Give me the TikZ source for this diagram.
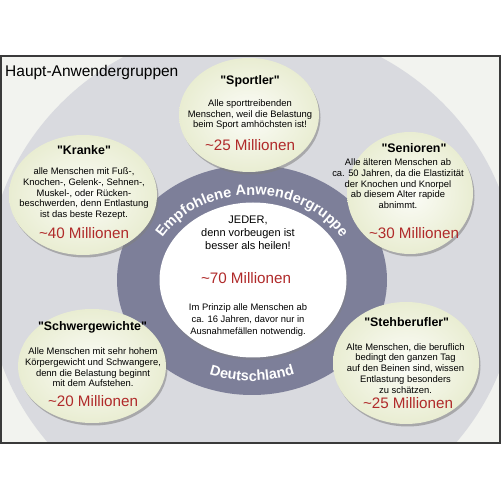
\documentclass[tikz,border=0pt]{standalone}
\usepackage{fontspec}
\setmainfont{Liberation Sans}[Ligatures=TeXOff]
\setsansfont{Liberation Sans}[Ligatures=TeXOff]
\usetikzlibrary{shapes.geometric,shadows,decorations.text}
\definecolor{rahmen}{HTML}{3A3A3A}
\definecolor{papier}{HTML}{F2F3EF}
\definecolor{hof}{HTML}{D9DADF}
\definecolor{ringfarbe}{HTML}{7D7F99}
\definecolor{creme}{HTML}{E9EDD2}
\definecolor{mrot}{HTML}{B02A2A}
\newcommand{\mio}[1]{\textasciitilde#1 Millionen}
\begin{document}
\begin{tikzpicture}[x=1pt,y=1pt,
    gruppe/.style={ellipse,inner sep=0pt,inner color=creme!15!white,outer color=creme,
      drop shadow={shadow xshift=1.5pt,shadow yshift=-2.5pt,opacity=0.55}},
    gtitel/.style={font=\fontsize{12.4}{14}\selectfont\bfseries},
    gtext/.style={align=center,font=\fontsize{9.4}{10.7}\selectfont},
    gmio/.style={text=mrot,font=\fontsize{15.2}{17}\selectfont},
    ringtext/.style={decorate,decoration={text along path,text align=center,text color=white,
      text={|\fontsize{14.5}{15}\selectfont\bfseries|#1}}}]
  \useasboundingbox (0,0) rectangle (501,501);
  \fill[papier] (1,58) rectangle (500,445);
  \begin{scope}
    \clip (1,58) rectangle (500,445);
    \fill[hof] (252,221) ellipse [x radius=265, y radius=255];
  \end{scope}
  \draw[rahmen,line width=1.2pt] (1,58) rectangle (500,445);
  \node[anchor=base west,inner sep=0pt,font=\fontsize{15.5}{17}\selectfont] (titel) at (5,424.3) {Haupt-Anwendergruppen};

  \node[ellipse,fill=ringfarbe,minimum width=270pt,minimum height=230pt] (ring) at (252,221) {};
  \node[ellipse,fill=white,minimum width=187pt,minimum height=155pt,
    drop shadow={shadow xshift=1pt,shadow yshift=-2.5pt,opacity=0.4}] (mitte) at (253,221) {};
  \path[ringtext=Empfohlene Anwendergruppe]
    (ring.center) ++(180:103 and 85) arc[start angle=180,end angle=0,x radius=103,y radius=85];
  \path[ringtext=Deutschland]
    (ring.center) ++(180:119 and 101) arc[start angle=180,end angle=360,x radius=119,y radius=101];
  \node[align=center,font=\fontsize{11}{13.2}\selectfont] (mitte-kopf) at (248,268.5) {JEDER,\\denn vorbeugen ist\\besser als heilen!};
  \node[gmio] (mitte-mio) at (246,222.7) {\mio{70}};
  \node[align=center,font=\fontsize{9.4}{11.7}\selectfont] (mitte-text) at (248,181) {Im Prinzip alle Menschen ab\\ca. 16 Jahren, davor nur in\\Ausnahmefällen notwendig.};

  \node[gruppe,minimum width=140pt,minimum height=114pt] (sportler) at (249,386) {};
  \node[gtitel] (sportler-titel) at (250,419.3) {"Sportler"};
  \node[gtext] (sportler-text) at (250,386.3) {Alle sporttreibenden\\Menschen, weil die Belastung\\beim Sport amhöchsten ist!};
  \node[gmio] (sportler-mio) at (250,356) {\mio{25}};

  \node[gruppe,minimum width=148pt,minimum height=120pt] (kranke) at (83,306) {};
  \node[gtitel] (kranke-titel) at (84,351) {"Kranke"};
  \node[gtext] (kranke-text) at (84,307.3) {alle Menschen mit Fuß-,\\Knochen-, Gelenk-, Sehnen-,\\Muskel-, oder Rücken-\\beschwerden, denn Entlastung\\ist das beste Rezept.};
  \node[gmio] (kranke-mio) at (84,268.3) {\mio{40}};

  \node[gruppe,minimum width=126pt,minimum height=122pt] (senioren) at (410,308) {};
  \node[gtitel] (senioren-titel) at (414,352.7) {"Senioren"};
  \node[gtext] (senioren-text) at (398,317.3) {Alle älteren Menschen ab\\ca. 50 Jahren, da die Elastizität\\der Knochen und Knorpel\\ab diesem Alter rapide\\abnimmt.};
  \node[gmio] (senioren-mio) at (414,268.3) {\mio{30}};

  \node[gruppe,minimum width=148pt,minimum height=114pt] (schwer) at (92,135) {};
  \node[gtitel] (schwer-titel) at (92.5,173.3) {"Schwergewichte"};
  \node[gtext] (schwer-text) at (93,133.5) {Alle Menschen mit sehr hohem\\Körpergewicht und Schwangere,\\denn die Belastung beginnt\\mit dem Aufstehen.};
  \node[gmio] (schwer-mio) at (93,100.3) {\mio{20}};

  \node[gruppe,minimum width=146pt,minimum height=122pt] (steh) at (406,138) {};
  \node[gtitel] (steh-titel) at (406.7,179.3) {"Stehberufler"};
  \node[gtext] (steh-text) at (405.5,132.7) {Alte Menschen, die beruflich\\bedingt den ganzen Tag\\auf den Beinen sind, wissen\\Entlastung besonders\\zu schätzen.};
  \node[gmio] (steh-mio) at (408,97.7) {\mio{25}};
\end{tikzpicture}
\end{document}
